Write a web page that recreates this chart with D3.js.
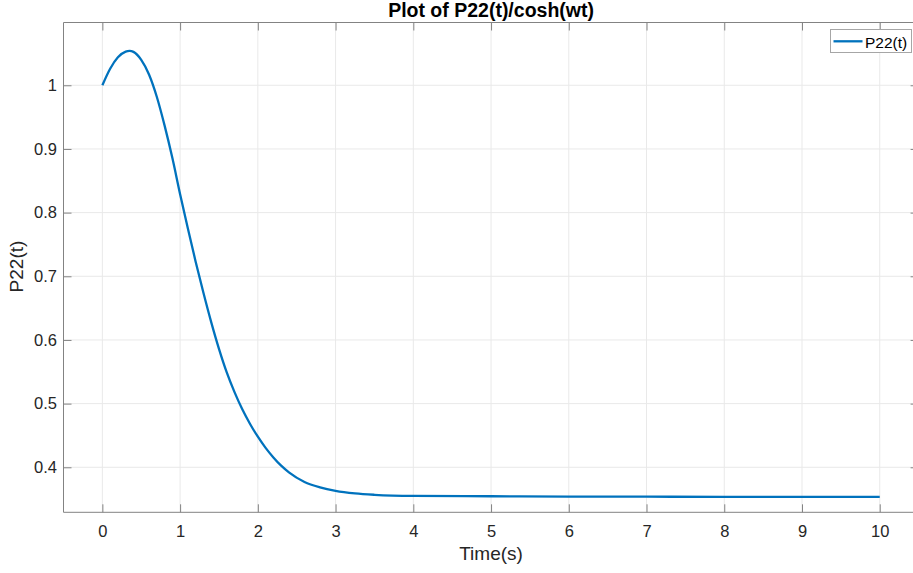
<!DOCTYPE html>
<html>
<head>
<meta charset="utf-8">
<script src="https://cdn.jsdelivr.net/npm/d3@7"></script>
<style>
  html, body { margin: 0; padding: 0; background: #fff; overflow: hidden; }
  svg { display: block; font-family: "Liberation Sans", Arial, Helvetica, sans-serif; }
</style>
</head>
<body>
<svg id="chart" width="913" height="573"></svg>
<script>
// Sampled response of P22(t)/cosh(wt)
const timeValues = [0, 0.1, 0.2, 0.3, 0.35, 0.4, 0.5, 0.6, 0.7, 0.8, 0.9, 1.0, 1.1, 1.2, 1.3, 1.4, 1.5, 1.6, 1.7, 1.8, 1.9, 2.0, 2.1, 2.2, 2.3, 2.4, 2.6, 2.8, 3.0, 3.25, 3.5, 4.0, 5, 6, 7, 8, 9, 10];
const p22Values  = [1.000, 1.026, 1.044, 1.053, 1.054, 1.0525, 1.040, 1.017, 0.982, 0.937, 0.886, 0.829, 0.775, 0.723, 0.674, 0.628, 0.586, 0.549, 0.518, 0.491, 0.468, 0.448, 0.4305, 0.4155, 0.4025, 0.392, 0.377, 0.3685, 0.363, 0.359, 0.3568, 0.355, 0.3545, 0.354, 0.3538, 0.3536, 0.3535, 0.3535];

const xTicks = [0, 1, 2, 3, 4, 5, 6, 7, 8, 9, 10];
const yTicks = [0.4, 0.5, 0.6, 0.7, 0.8, 0.9, 1];
const xDomain = [-0.5, 10.5];
const yDomain = [0.3293, 1.0986];

const titleText = "Plot of P22(t)/cosh(wt)";
const xLabelText = "Time(s)";
const yLabelText = "P22(t)";
const legendText = "P22(t)";

const svg = d3.select("#chart");
const plotLeft = 63.5, plotRight = 918.6, plotTop = 22.5, plotBottom = 512.3;

const x = d3.scaleLinear().domain(xDomain).range([plotLeft, plotRight]);
const y = d3.scaleLinear().domain(yDomain).range([plotBottom, plotTop]);

const axisColor = "#838383";
const textColor = "#262626";
const gridColor = "#e9e9e9";

// grid
const grid = svg.append("g");
grid.selectAll("line.gx").data(xTicks).join("line")
  .attr("class", "gx")
  .attr("x1", d => x(d)).attr("x2", d => x(d))
  .attr("y1", plotTop).attr("y2", plotBottom)
  .attr("stroke", gridColor).attr("stroke-width", 1);
grid.selectAll("line.gy").data(yTicks).join("line")
  .attr("class", "gy")
  .attr("y1", d => y(d)).attr("y2", d => y(d))
  .attr("x1", plotLeft).attr("x2", plotRight)
  .attr("stroke", gridColor).attr("stroke-width", 1);

// axes with inward ticks
const tickLen = 8;
const xAxisBottom = d3.axisBottom(x).tickValues(xTicks).tickSize(-tickLen).tickPadding(12.5).tickFormat(d3.format("d"));
const xAxisTop = d3.axisTop(x).tickValues(xTicks).tickSize(-tickLen).tickFormat("");
const yAxisLeft = d3.axisLeft(y).tickValues(yTicks).tickSize(-tickLen).tickPadding(6.5).tickFormat(d => d === 1 ? "1" : d3.format(".1f")(d));
const yAxisRight = d3.axisRight(y).tickValues(yTicks).tickSize(-tickLen).tickFormat("");

function styleAxis(g) {
  g.select(".domain").attr("stroke", axisColor).attr("stroke-width", 1);
  g.selectAll(".tick line").attr("stroke", axisColor).attr("stroke-width", 1);
  g.selectAll(".tick text").attr("fill", textColor).attr("font-size", 16.5)
    .attr("font-family", "'Liberation Sans', Arial, sans-serif");
}

svg.append("g").attr("transform", `translate(0,${plotBottom})`).call(xAxisBottom).call(styleAxis)
  .call(g => g.select(".domain").attr("d", `M${plotLeft},0H${plotRight}`));
svg.append("g").attr("transform", `translate(0,${plotTop})`).call(xAxisTop).call(styleAxis)
  .call(g => g.select(".domain").attr("d", `M${plotLeft},0H${plotRight}`));
svg.append("g").attr("transform", `translate(${plotLeft},0)`).call(yAxisLeft).call(styleAxis)
  .call(g => g.select(".domain").attr("d", `M0,${plotTop}V${plotBottom}`));
svg.append("g").attr("transform", `translate(${plotRight},0)`).call(yAxisRight).call(styleAxis)
  .call(g => g.select(".domain").attr("d", `M0,${plotTop}V${plotBottom}`));

// data line
const data = timeValues.map((t, i) => ({ t, v: p22Values[i] }));
const line = d3.line().x(d => x(d.t)).y(d => y(d.v)).curve(d3.curveMonotoneX);
svg.append("path").datum(data)
  .attr("d", line)
  .attr("fill", "none")
  .attr("stroke", "#0072BD")
  .attr("stroke-width", 2.3)
  .attr("stroke-linejoin", "round");

// title and labels
svg.append("text")
  .attr("x", (plotLeft + plotRight) / 2).attr("y", 16.5)
  .attr("text-anchor", "middle").attr("font-weight", "bold").attr("font-size", 19.5)
  .attr("fill", "#000").text(titleText);

svg.append("text")
  .attr("x", (plotLeft + plotRight) / 2).attr("y", 560)
  .attr("text-anchor", "middle").attr("font-size", 19)
  .attr("fill", textColor).text(xLabelText);

svg.append("text")
  .attr("transform", `translate(22.5,266.5) rotate(-90)`)
  .attr("text-anchor", "middle").attr("font-size", 19)
  .attr("fill", textColor).text(yLabelText);

// legend
const legend = svg.append("g");
legend.append("rect")
  .attr("x", 830.5).attr("y", 29.5).attr("width", 81).attr("height", 23)
  .attr("fill", "#fff").attr("stroke", "#a6a6a6").attr("stroke-width", 1);
legend.append("line")
  .attr("x1", 833.5).attr("x2", 862.5).attr("y1", 41.3).attr("y2", 41.3)
  .attr("stroke", "#0072BD").attr("stroke-width", 2.3);
legend.append("text")
  .attr("x", 865).attr("y", 47.5).attr("font-size", 15.5)
  .attr("fill", "#000").text(legendText);
</script>
</body>
</html>
